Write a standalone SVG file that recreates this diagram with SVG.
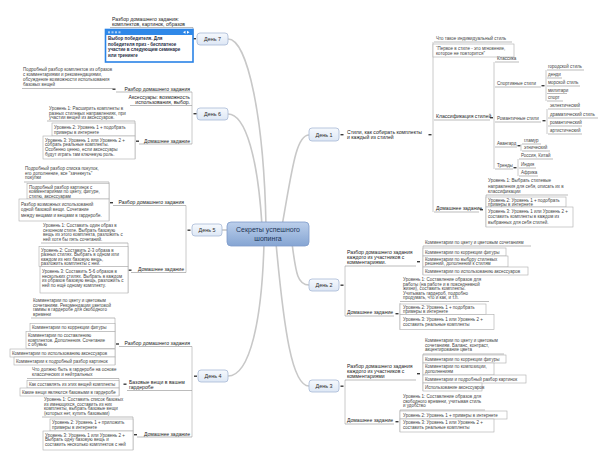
<svg xmlns="http://www.w3.org/2000/svg" width="609" height="473" viewBox="0 0 609 473">
<defs>
<linearGradient id="gDay" x1="0" y1="0" x2="0" y2="1"><stop offset="0" stop-color="#f6f9fd"/><stop offset="1" stop-color="#dde7f5"/></linearGradient>
<linearGradient id="gRoot" x1="0" y1="0" x2="0" y2="1"><stop offset="0" stop-color="#bccfeb"/><stop offset="1" stop-color="#85a5d3"/></linearGradient>
<style>
text{font-family:"Liberation Sans",Arial,sans-serif;fill:#444;font-size:4.5px}
.tp{font-size:5.1px;fill:#222}
.dt{font-size:5.4px;fill:#2b2b2b;text-anchor:middle}
.ul{stroke:#8e8e8e;stroke-width:0.6}
.bx{fill:#fff;stroke:#acacac;stroke-width:0.6}
.br{stroke:#bdbdbd;stroke-width:0.8;fill:none}
.mk{fill:#3c3c3c}
.cv{stroke:#c8c8c8;stroke-width:1.6;fill:none}
.day{fill:url(#gDay);stroke:#a7b9d6;stroke-width:0.8}
.end{text-anchor:end}
</style>
</defs>
<rect width="609" height="473" fill="#fff"/>

<!-- main branches -->
<g id="connectors">
<path class="cv" d="M266 226 C264 120,248 39,228 39"/>
<path class="cv" d="M262 226 C258 160,246 114,228 114"/>
<path class="cv" d="M228 230 L222 230"/>
<path class="cv" d="M264 243 C262 320,250 376,228 376"/>
<path class="cv" d="M282 226 C292 170,296 135,309 135"/>
<path class="cv" d="M292 243 C296 275,298 285,309 285"/>
<path class="cv" d="M276 243 C284 330,292 386,309 386"/>
</g>

<g id="root">
<rect x="227" y="222" width="82" height="24" rx="4" fill="url(#gRoot)" stroke="#7d9bc9" stroke-width="0.8"/>
<text x="268" y="232" style="font-size:7px;fill:#1d3557;text-anchor:middle">Секреты успешного</text>
<text x="268" y="241" style="font-size:7px;fill:#1d3557;text-anchor:middle">шопинга</text>
</g>

<!-- День 7 -->
<g id="day7">
<rect class="day" x="197" y="33" width="31" height="12" rx="3"/>
<text class="dt" x="212.5" y="41">День 7</text>
<rect class="mk" x="193" y="38" width="3" height="1.4"/>
<line class="br" x1="193" y1="27.5" x2="193" y2="39"/>
<text class="tp" x="112" y="21">Разбор домашнего задания:</text>
<text class="tp" x="112" y="26">комплектов, картинок, образов</text>
<line class="ul" x1="110" y1="27.5" x2="193" y2="27.5"/>
<rect x="105.5" y="29.5" width="87.5" height="32.5" fill="#fff" stroke="#2a83e6" stroke-width="1.6"/>
<rect x="105.5" y="29.5" width="87.5" height="5.5" fill="#2f88e8"/>
<rect x="108" y="31.3" width="2" height="2" fill="#a9cdf5"/>
<rect x="111.5" y="31.3" width="2" height="2" fill="#a9cdf5"/>
<rect x="115" y="31.3" width="2" height="2" fill="#a9cdf5"/>
<rect x="118.5" y="31.3" width="2" height="2" fill="#a9cdf5"/>
<path d="M183 32.3 L185.5 30.8 L185.5 33.8 Z M187 30.8 L189.5 32.3 L187 33.8 Z" fill="#fff"/>
<text x="108" y="40" style="font-weight:bold;fill:#1f2d45">Выбор победителя. Для</text>
<text x="108" y="45.5" style="font-weight:bold;fill:#1f2d45">победителя приз - бесплатное</text>
<text x="108" y="51" style="font-weight:bold;fill:#1f2d45">участие в следующем семинаре</text>
<text x="108" y="56.5" style="font-weight:bold;fill:#1f2d45">или тренинге</text>
</g>

<!-- День 6 -->
<g id="day6">
<rect class="day" x="197" y="108" width="31" height="12" rx="3"/>
<text class="dt" x="212.5" y="116">День 6</text>
<rect class="mk" x="193.5" y="113" width="3" height="1.4"/>
<line class="br" x1="192" y1="92" x2="192" y2="144"/>
<text class="tp end" x="190" y="90.5">Разбор домашнего задания</text>
<line class="ul" x1="116" y1="92" x2="192" y2="92"/>
<rect class="mk" x="112.5" y="88.5" width="3" height="1.4"/>
<text x="23" y="71">Подробный разбор комплектов из образов</text>
<text x="23" y="76">с комментариями и рекомендациями,</text>
<text x="23" y="81">обсуждение возможности использования</text>
<text x="23" y="86">базовых вещей</text>
<line class="ul" x1="22" y1="88.5" x2="113" y2="88.5"/>
<text class="tp end" x="190" y="99">Аксессуары: возможность</text>
<text class="tp end" x="190" y="104">использования, выбор.</text>
<line class="ul" x1="130" y1="105.5" x2="192" y2="105.5"/>
<text class="tp end" x="190" y="142.5">Домашнее задание</text>
<line class="ul" x1="139" y1="144" x2="192" y2="144"/>
<rect class="mk" x="136" y="140.5" width="3" height="1.4"/>
<line class="br" x1="135" y1="121" x2="135" y2="159"/>
<text x="49" y="110">Уровень 1: Расширить комплекты в</text>
<text x="49" y="114.5">разных стилевых направлениях, при</text>
<text x="49" y="119">участии вещей из аксессуаров.</text>
<line class="ul" x1="47" y1="121" x2="135" y2="121"/>
<rect class="bx" x="52" y="123" width="83" height="13"/>
<text x="54" y="128.5">Уровень 2: Уровень 1 + подобрать</text>
<text x="54" y="133.5">примеры в интернете</text>
<rect class="bx" x="43" y="136" width="92" height="23"/>
<text x="45" y="141.5">Уровень 3: Уровень 1 или Уровень 2 +</text>
<text x="45" y="146.3">собрать реальные комплекты.</text>
<text x="45" y="151.1">Особенно ценно, если аксессуары</text>
<text x="45" y="156">будут играть там ключевую роль.</text>
</g>

<!-- День 5 -->
<g id="day5">
<rect class="day" x="192" y="224" width="30" height="12" rx="3"/>
<text class="dt" x="207" y="232">День 5</text>
<rect class="mk" x="187.5" y="229.5" width="3" height="1.4"/>
<line class="br" x1="186" y1="205.5" x2="186" y2="272.5"/>
<text class="tp end" x="184" y="204">Разбор домашнего задания</text>
<line class="ul" x1="113" y1="205.5" x2="186" y2="205.5"/>
<rect class="mk" x="110" y="202" width="3" height="1.4"/>
<line class="br" x1="109" y1="182" x2="109" y2="221"/>
<text x="25" y="170">Подробный разбор списка покупок,</text>
<text x="25" y="174.7">его дополнение, все "зачекнуть"</text>
<text x="25" y="179.4">покупки</text>
<line class="ul" x1="24" y1="182" x2="109" y2="182"/>
<rect class="bx" x="27" y="183.5" width="82" height="15.5"/>
<text x="29" y="188.5">Подробный разбор картинок с</text>
<text x="29" y="193">комментариями по цвету, фигуре,</text>
<text x="29" y="197.5">стилю, аксессуарам</text>
<rect class="bx" x="19" y="199" width="90" height="22"/>
<text x="21" y="205.5">Разбор возможных использований</text>
<text x="21" y="211">одной базовой вещи. Сочетание</text>
<text x="21" y="216.5">между вещами и вещами в гардеробе.</text>
<text class="tp end" x="184" y="271">Домашнее задание</text>
<line class="ul" x1="131" y1="272.5" x2="186" y2="272.5"/>
<rect class="mk" x="128.5" y="269.5" width="3" height="1.4"/>
<line class="br" x1="128" y1="243" x2="128" y2="293"/>
<text x="43" y="227">Уровень 1: Составить один образ в</text>
<text x="43" y="231.5">сезонном стиле. Выбрать базовую</text>
<text x="43" y="236">вещь из этого комплекта, разложить с</text>
<text x="43" y="240.5">ней хотя бы пять сочетаний.</text>
<line class="ul" x1="41" y1="243" x2="128" y2="243"/>
<rect class="bx" x="39" y="246.5" width="89" height="20"/>
<text x="41" y="251.5">Уровень 2: Составить 2-3 образа в</text>
<text x="41" y="256">разных стилях. Выбрать в одном или</text>
<text x="41" y="260.5">каждом из них базовую вещь,</text>
<text x="41" y="265">разложить комплекты с ней.</text>
<rect class="bx" x="40" y="266.5" width="88" height="26.5"/>
<text x="42" y="273">Уровень 3: Составить 5-6 образов в</text>
<text x="42" y="277.7">нескольких стилях. Выбрать в каждом</text>
<text x="42" y="282.4">из образов базовую вещь, разложить с</text>
<text x="42" y="287.1">ней по ещё одному комплекту.</text>
</g>

<!-- День 4 -->
<g id="day4">
<rect class="day" x="198" y="370" width="30" height="12" rx="3"/>
<text class="dt" x="213" y="378">День 4</text>
<rect class="mk" x="194" y="375.5" width="3" height="1.4"/>
<line class="br" x1="192" y1="346.5" x2="192" y2="437"/>
<text class="tp end" x="190" y="345">Разбор домашнего задания</text>
<line class="ul" x1="119" y1="346.5" x2="192" y2="346.5"/>
<rect class="mk" x="116" y="343.3" width="3" height="1.4"/>
<line class="br" x1="115" y1="318" x2="115" y2="365"/>
<text x="33" y="302">Комментарии по цвету и цветовым</text>
<text x="33" y="306.5">сочетаниям. Рекомендации цветовой</text>
<text x="33" y="311">гаммы в гардеробе для свободного</text>
<text x="33" y="315.5">времени</text>
<line class="ul" x1="31" y1="318" x2="115" y2="318"/>
<rect class="bx" x="30" y="323.5" width="85" height="8"/>
<text x="32" y="329">Комментарии по коррекции фигуры</text>
<rect class="bx" x="26" y="331.5" width="89" height="17"/>
<text x="28" y="336.8">Комментарии по составлению</text>
<text x="28" y="341.5">комплектов. Дополнения. Сочетание</text>
<text x="28" y="346.2">с обувью</text>
<rect class="bx" x="10" y="349" width="105" height="8"/>
<text x="12" y="354.5">Комментарии по использованию аксессуаров</text>
<rect class="bx" x="14" y="357" width="101" height="8"/>
<text x="16" y="362.5">Комментарии к подробный разбор картинок</text>
<text class="tp" x="129" y="384">Базовые вещи в вашем</text>
<text class="tp" x="129" y="389">гардеробе</text>
<line class="ul" x1="127" y1="390.5" x2="192" y2="390.5"/>
<rect class="mk" x="123.5" y="383.5" width="3" height="1.4"/>
<line class="br" x1="119" y1="378.5" x2="119" y2="396"/>
<text x="32" y="371">Что должно быть в гардеробе на основе</text>
<text x="32" y="376">классических и нейтральных</text>
<line class="ul" x1="27" y1="378.5" x2="119" y2="378.5"/>
<rect class="bx" x="27" y="380.5" width="92" height="7.5"/>
<text x="29" y="386">Как составлять из этих вещей комплекты</text>
<rect class="bx" x="20" y="388" width="99" height="8"/>
<text x="22" y="393.7">Какие вещи являются базовыми в гардеробе</text>
<text class="tp end" x="190" y="435.5">Домашнее задание</text>
<line class="ul" x1="137" y1="437" x2="192" y2="437"/>
<rect class="mk" x="134" y="434" width="3" height="1.4"/>
<line class="br" x1="133" y1="417" x2="133" y2="450"/>
<text x="44" y="401">Уровень 1: Составить список базовых</text>
<text x="44" y="405.5">из имеющихся, составить из них</text>
<text x="44" y="410">комплекты, выбрать базовые вещи</text>
<text x="44" y="414.5">(которых нет, купить базовыми)</text>
<line class="ul" x1="42" y1="417" x2="133" y2="417"/>
<rect class="bx" x="50" y="419" width="83" height="12"/>
<text x="52" y="424.3">Уровень 2: Уровень 1 + приложить</text>
<text x="52" y="429">примеры в интернете</text>
<rect class="bx" x="43" y="431" width="90" height="19"/>
<text x="45" y="436.5">Уровень 3: Уровень 1 или Уровень 2 +</text>
<text x="45" y="441.2">Выбрать одну базовую вещь и</text>
<text x="45" y="445.9">составить несколько комплектов с ней</text>
</g>

<!-- День 1 -->
<g id="day1">
<rect class="day" x="309" y="128" width="30" height="13" rx="3"/>
<text class="dt" x="324" y="136.5">День 1</text>
<rect class="mk" x="340.5" y="134" width="3" height="1.4"/>
<text class="tp" x="347" y="134">Стили, как собирать комплекты</text>
<text class="tp" x="347" y="139">и каждый из стилей</text>
<rect class="mk" x="428.5" y="134" width="3" height="1.4"/>
<line class="br" x1="433" y1="42" x2="433" y2="212"/>
<text x="436" y="40">Что такое индивидуальный стиль</text>
<line class="ul" x1="434" y1="42" x2="512" y2="42"/>
<rect class="bx" x="433" y="44" width="81" height="13"/>
<text x="436" y="49.5">“Первое в стиле - это мгновение,</text>
<text x="436" y="54.5">которое не повторится”</text>
<text class="tp" x="436" y="118">Классификация стилей</text>
<line class="ul" x1="434" y1="120" x2="490" y2="120"/>
<rect class="mk" x="490" y="117" width="3" height="1.4"/>
<line class="br" x1="494" y1="62" x2="494" y2="169"/>
<text x="497" y="60">Классика</text>
<line class="ul" x1="495" y1="62" x2="519" y2="62"/>
<text x="497" y="85">Спортивные стили</text>
<line class="ul" x1="495" y1="87" x2="541" y2="87"/>
<rect class="mk" x="541.5" y="85" width="3" height="1.4"/>
<line class="br" x1="546" y1="70" x2="546" y2="101"/>
<text x="548" y="68">городской стиль</text>
<line class="ul" x1="547" y1="70" x2="584" y2="70"/>
<text x="548" y="76">денди</text>
<line class="ul" x1="547" y1="78" x2="562" y2="78"/>
<text x="548" y="84">морской стиль</text>
<line class="ul" x1="547" y1="86" x2="580" y2="86"/>
<text x="548" y="91.5">милитари</text>
<line class="ul" x1="547" y1="93.5" x2="567" y2="93.5"/>
<text x="548" y="99">спорт</text>
<line class="ul" x1="547" y1="101" x2="563" y2="101"/>
<text x="497" y="120">Романтичные стили</text>
<line class="ul" x1="495" y1="122" x2="541" y2="122"/>
<rect class="mk" x="542.5" y="120" width="3" height="1.4"/>
<line class="br" x1="547" y1="109" x2="547" y2="134"/>
<text x="550" y="107">эклектический</text>
<line class="ul" x1="548" y1="109" x2="580" y2="109"/>
<text x="550" y="116">драматический стиль</text>
<line class="ul" x1="548" y1="118" x2="598" y2="118"/>
<text x="550" y="124">романтический</text>
<line class="ul" x1="548" y1="126" x2="582" y2="126"/>
<text x="550" y="132">артистический</text>
<line class="ul" x1="548" y1="134" x2="582" y2="134"/>
<text x="497" y="145">Авангард</text>
<line class="ul" x1="495" y1="147" x2="517" y2="147"/>
<rect class="mk" x="517.5" y="145" width="3" height="1.4"/>
<line class="br" x1="521" y1="144" x2="521" y2="151"/>
<text x="524" y="142">гламур</text>
<line class="ul" x1="522" y1="144" x2="541" y2="144"/>
<text x="524" y="149">этнический</text>
<line class="ul" x1="522" y1="151" x2="550" y2="151"/>
<text x="497" y="167">Тренды</text>
<line class="ul" x1="495" y1="169" x2="513" y2="169"/>
<rect class="mk" x="513.5" y="167" width="3" height="1.4"/>
<line class="br" x1="518" y1="159" x2="518" y2="176"/>
<text x="521" y="157">Россия, Китай</text>
<line class="ul" x1="519" y1="159" x2="553" y2="159"/>
<text x="521" y="166">Индия</text>
<line class="ul" x1="519" y1="168" x2="536" y2="168"/>
<text x="521" y="174">Африка</text>
<line class="ul" x1="519" y1="176" x2="538" y2="176"/>
<text class="tp" x="436" y="210">Домашнее задание</text>
<line class="ul" x1="434" y1="212" x2="479" y2="212"/>
<rect class="mk" x="480" y="209" width="3" height="1.4"/>
<line class="br" x1="486" y1="195" x2="486" y2="227"/>
<text x="488" y="182">Уровень 1: Выбрать стилевые</text>
<text x="488" y="187.5">направления для себя, описать их в</text>
<text x="488" y="193">классификации</text>
<line class="ul" x1="486" y1="195" x2="568" y2="195"/>
<rect class="bx" x="486" y="197" width="80" height="10"/>
<text x="488" y="201.5">Уровень 2: Уровень 1 + подобрать</text>
<text x="488" y="206">примеры в интернете</text>
<rect class="bx" x="486" y="207" width="87" height="20"/>
<text x="488" y="212.5">Уровень 3: Уровень 1 или Уровень 2 +</text>
<text x="488" y="218">составить комплекты в каждом из</text>
<text x="488" y="223.5">выбранных для себя стилей.</text>
</g>

<!-- День 2 -->
<g id="day2">
<rect class="day" x="309" y="279" width="30" height="12" rx="3"/>
<text class="dt" x="324" y="287">День 2</text>
<rect class="mk" x="340.5" y="284.5" width="3" height="1.4"/>
<line class="br" x1="345" y1="266" x2="345" y2="316"/>
<text class="tp" x="347" y="254">Разбор домашнего задания</text>
<text class="tp" x="347" y="259">каждого из участников с</text>
<text class="tp" x="347" y="264">комментариями.</text>
<line class="ul" x1="345" y1="266" x2="416" y2="266"/>
<rect class="mk" x="417" y="261" width="3" height="1.4"/>
<line class="br" x1="423" y1="246" x2="423" y2="275"/>
<text x="425" y="244">Комментарии по цвету и цветовым сочетаниям</text>
<line class="ul" x1="423" y1="246" x2="531" y2="246"/>
<rect class="bx" x="423" y="248" width="83" height="8"/>
<text x="425" y="253.5">Комментарии по коррекции фигуры</text>
<rect class="bx" x="423" y="256" width="85" height="11"/>
<text x="425" y="260.7">Комментарии по выбору стилевых</text>
<text x="425" y="265.3">решений, дополнений к стилям</text>
<rect class="bx" x="423" y="267" width="105" height="8"/>
<text x="425" y="272.5">Комментарии по использованию аксессуаров</text>
<text class="tp" x="347" y="314">Домашнее задание</text>
<line class="ul" x1="345" y1="316" x2="394" y2="316"/>
<rect class="mk" x="395.5" y="313" width="3" height="1.4"/>
<line class="br" x1="400" y1="303" x2="400" y2="330"/>
<text x="403" y="281">Уровень 1: Составление образов для</text>
<text x="403" y="285.5">работы (на работе и в повседневной</text>
<text x="403" y="290">жизни), составить комплекты.</text>
<text x="403" y="294.5">Учитывать гардероб, подробно</text>
<text x="403" y="299">продумать, что и как, и т.п.</text>
<line class="ul" x1="400" y1="301.5" x2="489" y2="301.5"/>
<rect class="bx" x="400" y="304" width="86" height="10.5"/>
<text x="403" y="308.6">Уровень 2: Уровень 1 + подобрать</text>
<text x="403" y="313.2">примеры в интернете</text>
<rect class="bx" x="400" y="314.5" width="94" height="15"/>
<text x="403" y="320.5">Уровень 3: Уровень 1 или Уровень 2 +</text>
<text x="403" y="326">составить реальные комплекты</text>
</g>

<!-- День 3 -->
<g id="day3">
<rect class="day" x="309" y="380" width="30" height="12" rx="3"/>
<text class="dt" x="324" y="388">День 3</text>
<rect class="mk" x="340.5" y="385.5" width="3" height="1.4"/>
<line class="br" x1="345" y1="380" x2="345" y2="424"/>
<text class="tp" x="347" y="368">Разбор домашнего задания</text>
<text class="tp" x="347" y="373">каждого из участников с</text>
<text class="tp" x="347" y="378">комментариями</text>
<line class="ul" x1="345" y1="380" x2="416" y2="380"/>
<rect class="mk" x="417" y="373" width="3" height="1.4"/>
<line class="br" x1="423" y1="354" x2="423" y2="391"/>
<text x="425" y="342">Комментарии по цвету и цветовым</text>
<text x="425" y="346.7">сочетаниям. Баланс, контраст,</text>
<text x="425" y="351.4">акцентирование цвета</text>
<line class="ul" x1="423" y1="354" x2="504" y2="354"/>
<rect class="bx" x="423" y="355" width="83" height="8"/>
<text x="425" y="360.5">Комментарии по коррекции фигуры</text>
<rect class="bx" x="423" y="363" width="71" height="12"/>
<text x="425" y="368">Комментарии по композиции,</text>
<text x="425" y="372.8">дополнениям</text>
<rect class="bx" x="423" y="375" width="103" height="8"/>
<text x="425" y="380.5">Комментарии и подробный разбор картинок</text>
<rect class="bx" x="423" y="383" width="59" height="8"/>
<text x="425" y="388.5">Использование аксессуаров</text>
<text class="tp" x="347" y="422">Домашнее задание</text>
<line class="ul" x1="345" y1="424" x2="394" y2="424"/>
<rect class="mk" x="395.5" y="421" width="3" height="1.4"/>
<line class="br" x1="400" y1="410" x2="400" y2="432"/>
<text x="403" y="398">Уровень 1: Составление образов для</text>
<text x="403" y="402.7">свободного времени, учитывая стиль</text>
<text x="403" y="407.4">и удобство</text>
<line class="ul" x1="400" y1="410" x2="485" y2="410"/>
<rect class="bx" x="400" y="411" width="107" height="8"/>
<text x="403" y="416.5">Уровень 2: Уровень 1 + примеры в интернете</text>
<rect class="bx" x="400" y="419" width="94" height="13"/>
<text x="403" y="424.3">Уровень 3: Уровень 1 или Уровень 2 +</text>
<text x="403" y="429.3">составить реальные комплекты</text>
</g>
</svg>
